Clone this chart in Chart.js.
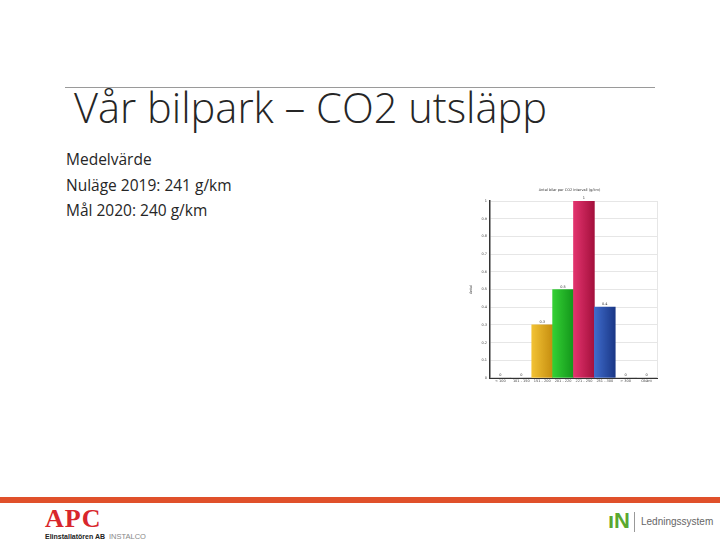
<!DOCTYPE html>
<html><head><meta charset="utf-8">
<script src="https://cdn.jsdelivr.net/npm/chart.js@4"></script>
<style>
html,body{margin:0;padding:0;background:#fff;}
#slide{position:relative;width:720px;height:540px;overflow:hidden;background:#fff;font-family:"Open Sans",sans-serif;}
#rule{position:absolute;left:65px;top:87px;width:590px;height:1px;background:#9a9a9a;}
#title{position:absolute;left:74px;top:79px;font-size:41.6px;color:#262626;font-weight:300;white-space:nowrap;}
#body{position:absolute;left:66px;top:147px;font-size:15.5px;line-height:25.5px;color:#262626;white-space:nowrap;}
#bar{position:absolute;left:0;top:497px;width:720px;height:6px;background:#E0502A;}
#apc{position:absolute;left:45px;top:504px;font-family:"Liberation Serif",serif;font-weight:bold;font-size:26px;color:#D8262C;line-height:normal;letter-spacing:1px;}
#apcsub{position:absolute;left:45px;top:533px;font-family:"Liberation Sans",sans-serif;font-weight:bold;font-size:7px;color:#222;line-height:7px;}
#instalco{position:absolute;left:109px;top:533px;font-family:"Liberation Sans",sans-serif;font-size:7.5px;color:#888;line-height:7px;}
#nlogo{position:absolute;left:608px;top:508px;font-family:"Liberation Sans",sans-serif;font-weight:bold;font-size:22px;color:#5aa830;}
#sep{position:absolute;left:634px;top:512px;width:1px;height:20px;background:#999;}
#led{position:absolute;left:641px;top:516px;font-family:"Liberation Sans",sans-serif;font-size:10px;color:#666;}
#c{position:absolute;left:469px;top:182px;}
</style></head>
<body><div id="slide">
<div id="rule"></div>
<div id="title">Vår bilpark – CO2 utsläpp</div>
<div id="body">Medelvärde<br>Nuläge 2019: 241 g/km<br>Mål 2020: 240 g/km</div>
<canvas id="c" width="197" height="208"></canvas>
<div id="bar"></div>
<div id="apc">APC</div>
<div id="apcsub">Elinstallatören AB</div>
<div id="instalco">INSTALCO</div>
<div id="nlogo">ıN</div>
<div id="sep"></div>
<div id="led">Ledningssystem</div>
</div>
<script>
const categories = ["< 100", "101 - 150", "151 - 200", "201 - 220", "221 - 250", "251 - 300", "> 300", "Okänt"];
const values = [0, 0, 0.3, 0.5, 1, 0.4, 0, 0];
const yTicks = [0, 0.1, 0.2, 0.3, 0.4, 0.5, 0.6, 0.7, 0.8, 0.9, 1];
const chartTitle = "Antal bilar per CO2 intervall (g/km)";
const yTitle = "Antal";
const barColors = [["#888","#666"],["#888","#666"],["#F2C234","#C68E10"],["#34D034","#13961B"],["#E2336E","#A4103C"],["#3F6BCB","#1A3786"],["#888","#666"],["#888","#666"]];

const fmt = v => (v === 0 || v === 1) ? String(v) : v.toFixed(1);

const labelPlugin = {
  id: 'labels',
  afterDatasetsDraw(chart) {
    const ctx = chart.ctx;
    const meta = chart.getDatasetMeta(0);
    ctx.save();
    ctx.font = '3.5px "DejaVu Sans"';
    ctx.fillStyle = '#333';
    ctx.textAlign = 'center';
    ctx.textBaseline = 'bottom';
    meta.data.forEach((el, i) => {
      ctx.fillText(fmt(values[i]), el.x, el.y - 1);
    });
    ctx.restore();
  }
};
const titlePlugin = {
  id: 'ttl',
  afterDraw(chart) {
    const ctx = chart.ctx;
    const a = chart.chartArea;
    ctx.save();
    ctx.font = '3.5px "DejaVu Sans"';
    ctx.fillStyle = '#333';
    ctx.textAlign = 'center';
    ctx.textBaseline = 'middle';
    ctx.fillText(chartTitle, (a.left + a.right) / 2 - 4, 8);
    ctx.restore();
  }
};

function grad(context) {
  const chart = context.chart;
  const i = context.dataIndex;
  const xs = chart.scales.x;
  if (!xs || xs.width == null || !chart.chartArea) return barColors[i][0];
  const cx = xs.getPixelForValue(i);
  const w = xs.width / categories.length;
  const g = chart.ctx.createLinearGradient(cx - w / 2, 0, cx + w / 2, 0);
  g.addColorStop(0, barColors[i][0]);
  g.addColorStop(1, barColors[i][1]);
  return g;
}

new Chart(document.getElementById('c'), {
  type: 'bar',
  data: { labels: categories, datasets: [{ data: values, backgroundColor: grad, borderWidth: 0, barPercentage: 1, categoryPercentage: 1 }] },
  options: {
    responsive: false, animation: false, devicePixelRatio: 1,
    layout: { padding: { top: 19, right: 9, left: 0, bottom: 0 } },
    plugins: { legend: { display: false }, tooltip: { enabled: false } },
    scales: {
      x: {
        grid: { display: false, drawTicks: false },
        border: { color: '#333', width: 1 },
        ticks: { font: { size: 3.5, family: 'DejaVu Sans' }, color: '#444', maxRotation: 0, autoSkip: false, padding: 1 },
        afterFit: s => { s.height = 12; }
      },
      y: {
        min: 0, max: 1,
        afterBuildTicks: s => { s.ticks = yTicks.map(v => ({ value: v })); },
        grid: { color: '#e6e6e6', drawTicks: false },
        border: { color: '#333', width: 1.5 },
        ticks: { font: { size: 3.5, family: 'DejaVu Sans' }, color: '#444', padding: 3, callback: v => fmt(v) },
        title: { display: true, text: yTitle, font: { size: 3.5, family: 'DejaVu Sans' }, color: '#444', padding: 0 },
        afterFit: s => { s.width = 21; }
      }
    }
  },
  plugins: [labelPlugin, titlePlugin, {
    id: 'rightline',
    afterDraw(chart) {
      const a = chart.chartArea, ctx = chart.ctx;
      ctx.save(); ctx.strokeStyle = '#e6e6e6'; ctx.lineWidth = 1;
      ctx.beginPath(); ctx.moveTo(a.right + 0.5, a.top); ctx.lineTo(a.right + 0.5, a.bottom); ctx.stroke();
      ctx.restore();
    }
  }]
});
</script>
</body></html>
